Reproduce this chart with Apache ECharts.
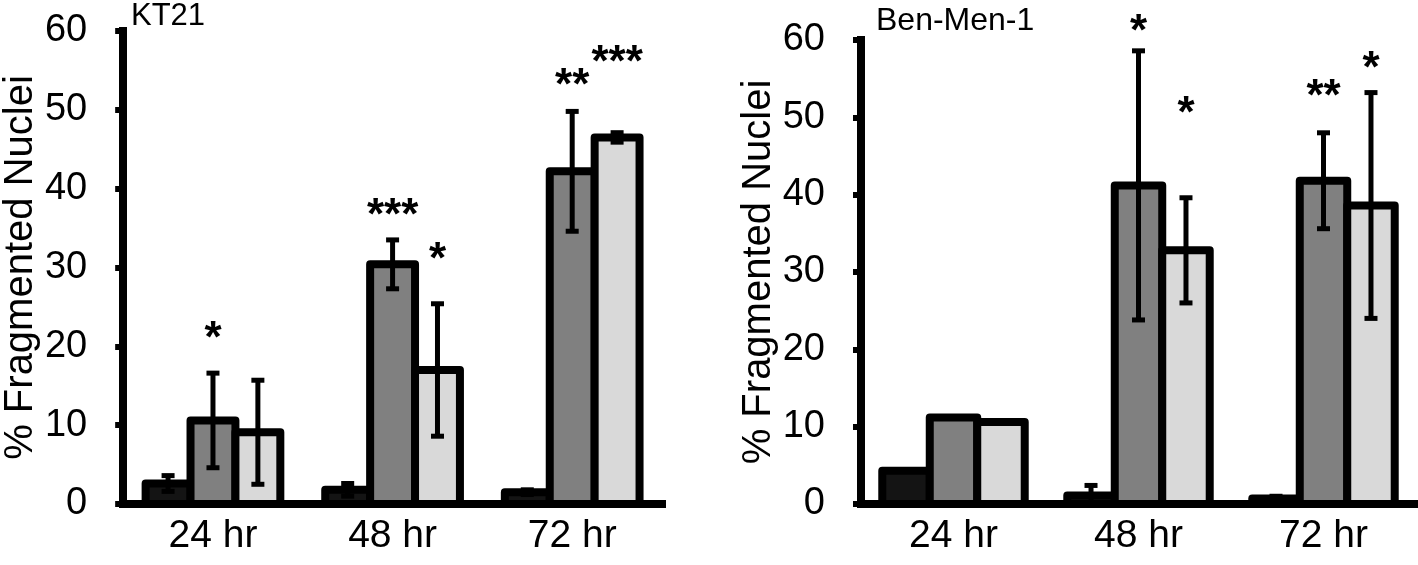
<!DOCTYPE html>
<html>
<head>
<meta charset="utf-8">
<script src="https://cdn.jsdelivr.net/npm/echarts@6/dist/echarts.min.js"></script>
<style>
html,body{margin:0;padding:0;background:#fff;}
#chart{width:1418px;height:565px;}
</style>
</head>
<body>
<div id="chart"></div>
<script>
// ---------- data ----------
const categories = ['24 hr', '48 hr', '72 hr'];
const seriesNames = ['Control', 'Treatment 1', 'Treatment 2'];

// KT21 panel
const kt21Ctrl    = [2.6, 1.8, 1.5];
const kt21CtrlErr = [1.0, 0.8, 0.3];
const kt21T1      = [10.6, 30.4, 42.2];
const kt21T1Err   = [6.0, 3.1, 7.6];
const kt21T2      = [9.1, 17.0, 46.5];
const kt21T2Err   = [6.6, 8.4, 0.6];
// [category index, bar index, y position, text]
const kt21Stars = [[0, 1, 22.0, '*'], [1, 1, 37.6, '***'], [1, 2, 32.0, '*'], [2, 1, 54.0, '**'], [2, 2, 57.0, '***']];

// Ben-Men-1 panel
const bmCtrl    = [4.3, 1.1, 0.7];
const bmCtrlErr = [0, 1.3, 0.3];
const bmT1      = [11.2, 41.2, 41.8];
const bmT1Err   = [0, 17.4, 6.2];
const bmT2      = [10.6, 32.8, 38.6];
const bmT2Err   = [0, 6.8, 14.6];
const bmStars = [[1, 1, 62.1, '*'], [1, 2, 51.5, '*'], [2, 1, 53.7, '**'], [2, 2, 57.3, '*']];

const yMin = 0, yMax = 60, yInterval = 10;
const axisTitle = '% Fragmented Nuclei';
const panelTitles = ['KT21', 'Ben-Men-1'];

// ---------- styling ----------
const FONT = "'Liberation Sans', Arial, sans-serif";
const fills = ['#141414', '#808080', '#d9d9d9'];
const gaps = [0.25, 0.23];

// bars ordered by category then bar index: [catIdx, value, barIdx]
function barItems(groups) {
  const out = [];
  categories.forEach((c, ci) => groups.forEach((vals, bi) => out.push([ci, vals[ci], bi])));
  return out;
}
function errItems(groups, errs) {
  const out = [];
  categories.forEach((c, ci) => groups.forEach((vals, bi) => out.push([ci, vals[ci], errs[bi][ci], bi])));
  return out;
}

function barX(api, ci, bi, gap) {
  const band = api.size([1, 0])[0];
  const bw = band * (1 - gap) / 3;
  const c = api.coord([ci, 0]);
  return { xc: c[0] + (bi - 1) * bw, bw: bw, y0: c[1] };
}

function barRender(gap) {
  return function (params, api) {
    const ci = api.value(0), v = api.value(1), bi = api.value(2);
    const g = barX(api, ci, bi, gap);
    const yt = api.coord([ci, v])[1];
    return {
      type: 'rect',
      shape: { x: g.xc - g.bw / 2, y: yt, width: g.bw, height: g.y0 - yt },
      style: { fill: fills[bi], stroke: '#000', lineWidth: 8, lineJoin: 'round' }
    };
  };
}

function errRender(gap) {
  return function (params, api) {
    const ci = api.value(0), v = api.value(1), e = api.value(2), bi = api.value(3);
    if (!e) return null;
    const g = barX(api, ci, bi, gap);
    const x = g.xc;
    const top = api.coord([ci, v + e])[1];
    const bot = api.coord([ci, Math.max(0, v - e)])[1];
    const hw = 6.5;
    const st = { stroke: '#000', lineWidth: 5 };
    return {
      type: 'group',
      children: [
        { type: 'line', shape: { x1: x, y1: top, x2: x, y2: bot }, style: st },
        { type: 'line', shape: { x1: x - hw, y1: top, x2: x + hw, y2: top }, style: st },
        { type: 'line', shape: { x1: x - hw, y1: bot, x2: x + hw, y2: bot }, style: st }
      ]
    };
  };
}

function starRender(gap, stars) {
  return function (params, api) {
    const ci = api.value(0), bi = api.value(1), y = api.value(2);
    const txt = stars[params.dataIndex][3];
    const g = barX(api, ci, bi, gap);
    const c = api.coord([ci, y]);
    return {
      type: 'text',
      x: g.xc,
      y: c[1] + 9,
      style: {
        text: txt, fill: '#000',
        font: 'bold 44px ' + FONT,
        align: 'center', verticalAlign: 'middle'
      }
    };
  };
}

const yAxisBase = {
  type: 'value', min: yMin, max: yMax, interval: yInterval,
  name: axisTitle, nameLocation: 'middle',
  nameTextStyle: { fontFamily: FONT, fontSize: 40, color: '#000' },
  axisLine: { show: true, lineStyle: { color: '#000', width: 8, cap: 'square' } },
  axisTick: { show: true, length: 8, lineStyle: { color: '#000', width: 6 } },
  axisLabel: { fontFamily: FONT, fontSize: 38, color: '#000', margin: 36 },
  splitLine: { show: false }
};
const xAxisBase = {
  type: 'category', data: categories,
  axisLine: { show: true, lineStyle: { color: '#000', width: 8, cap: 'square' } },
  axisTick: { show: false },
  axisLabel: { fontFamily: FONT, fontSize: 39, color: '#000', margin: 13 },
  splitLine: { show: false }
};

function panelSeries(panel, groups, errs, stars) {
  return [
    {
      type: 'custom', name: panelTitles[panel], xAxisIndex: panel, yAxisIndex: panel, z: 2, silent: true,
      encode: { x: 0, y: 1 },
      renderItem: barRender(gaps[panel]),
      data: barItems(groups)
    },
    {
      type: 'custom', xAxisIndex: panel, yAxisIndex: panel, z: 5, silent: true,
      encode: { x: 0, y: 1 },
      renderItem: errRender(gaps[panel]),
      data: errItems(groups, errs)
    },
    {
      type: 'custom', xAxisIndex: panel, yAxisIndex: panel, z: 6, silent: true, clip: false,
      encode: { x: 0, y: 2 },
      renderItem: starRender(gaps[panel], stars),
      data: stars.map(s => [s[0], s[1], s[2]])
    }
  ];
}

const chart = echarts.init(document.getElementById('chart'), null, { renderer: 'canvas' });
chart.setOption({
  backgroundColor: '#fff',
  animation: false,
  title: [
    { text: panelTitles[0], left: 126, top: -4, textStyle: { fontFamily: FONT, fontSize: 31, fontWeight: 'normal', color: '#000' } },
    { text: panelTitles[1], left: 871, top: 0, textStyle: { fontFamily: FONT, fontSize: 32, fontWeight: 'normal', color: '#000' } }
  ],
  grid: [
    { left: 119, top: 31, width: 543, height: 473 },
    { left: 861, top: 40, width: 555, height: 464 }
  ],
  xAxis: [
    Object.assign({}, xAxisBase, { gridIndex: 0 }),
    Object.assign({}, xAxisBase, { gridIndex: 1 })
  ],
  yAxis: [
    Object.assign({}, yAxisBase, { gridIndex: 0, nameGap: 81 }),
    Object.assign({}, yAxisBase, { gridIndex: 1, nameGap: 76 })
  ],
  series: [].concat(
    panelSeries(0, [kt21Ctrl, kt21T1, kt21T2], [kt21CtrlErr, kt21T1Err, kt21T2Err], kt21Stars),
    panelSeries(1, [bmCtrl, bmT1, bmT2], [bmCtrlErr, bmT1Err, bmT2Err], bmStars)
  )
});
</script>
</body>
</html>
